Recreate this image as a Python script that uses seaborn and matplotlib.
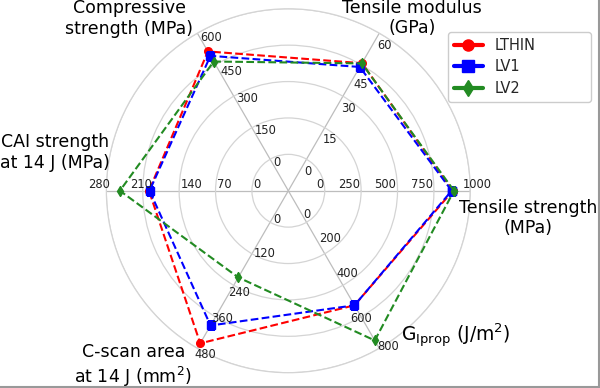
import numpy as np
import pandas as pd
import matplotlib.pyplot as plt
from matplotlib.lines import Line2D
import seaborn as sns

# radar axes, counter-clockwise starting at 3 o'clock
props = ['Tensile strength\n(MPa)', 'Tensile modulus\n(GPa)', 'Compressive\nstrength (MPa)',
         'CAI strength\nat 14 J (MPa)', 'C-scan area\nat 14 J (mm$^2$)',
         r'G$_{\mathrm{Iprop}}$ (J/m$^2$)']
axis_max = [1000, 60, 600, 280, 480, 800]
tick_step = [250, 15, 150, 70, 120, 200]

samples = ['LTHIN', 'LV1', 'LV2']
lthin = [880, 45.7, 513, 198, 461, 527]
lv1 = [872, 43.9, 492, 197, 393, 527]
lv2 = [888, 45.6, 465, 254, 210, 750]

colors = ['red', 'blue', 'forestgreen']
markers = ['o', 's', 'd']

sns.set_style('whitegrid')
plt.rcParams['font.family'] = ['DejaVu Sans']

angles = np.deg2rad(np.arange(0, 360, 60))
n_levels = 4  # ticks above zero; zero sits on the first ring

def to_r(vals):
    return [1 + n_levels * v / m for v, m in zip(vals, axis_max)]

rows = []
for name, vals in zip(samples, [lthin, lv1, lv2]):
    r = to_r(vals)
    th = list(angles) + [2 * np.pi]
    r = r + [r[0]]
    for t, rr in zip(th, r):
        rows.append({'sample': name, 'theta': t, 'r': rr})
df = pd.DataFrame(rows)

fig = plt.figure(figsize=(6, 3.88), dpi=100)
ax = fig.add_axes([0.1772, 0.0394, 0.6067, 0.938], polar=True)
ax.set_facecolor('white')

for name, c, m in zip(samples, colors, markers):
    sub = df[df['sample'] == name]
    sns.lineplot(data=sub, x='theta', y='r', ax=ax, sort=False, estimator=None,
                 color=c, linestyle='--', linewidth=1.5, marker=m, markersize=5.5,
                 markeredgecolor=c, markeredgewidth=1)

ax.set_ylim(0, 5)
ax.set_rgrids([1, 2, 3, 4, 5], labels=[''] * 5)
ax.set_thetagrids(np.rad2deg(angles), labels=[''] * 6)
ax.xaxis.grid(True, color='#bdbdbd', linewidth=0.9)
ax.yaxis.grid(True, color='#d4d4d4', linewidth=0.9)
ax.spines['polar'].set_color('#d4d4d4')
ax.spines['polar'].set_linewidth(0.9)
ax.set_xlabel('')
ax.set_ylabel('')

# per-axis tick labels, some pushed off the markers
tick_align = [('right', 'bottom', -1, 0), ('left', 'top', -1.5, -4),
              ('left', 'center', 2, -2), ('left', 'bottom', 1, 0),
              ('left', 'center', 1, 0), ('left', 'bottom', -3, 3)]
nudge = {(0, 4): (23, 0), (1, 3): (-6, 8), (2, 3): (2, 4), (2, 4): (0, 2),
         (3, 3): (-14, 0), (3, 4): (-20, 0),
         (4, 0): (2, -3), (4, 2): (-7, 7), (4, 3): (-6, 2), (4, 4): (-4, 6),
         (5, 0): (1, 3), (5, 1): (-1, -5), (5, 2): (-2, -1), (5, 3): (-7, 12), (5, 4): (2, 9)}
for i, (a, step, (ha, va, dx, dy)) in enumerate(zip(angles, tick_step, tick_align)):
    for k in range(n_levels + 1):
        nx, ny = nudge.get((i, k), (0, 0))
        ax.annotate(f'{k * step}', xy=(a, k + 1),
                    xytext=(dx + nx * 0.72, dy - ny * 0.72),
                    textcoords='offset points', ha=ha, va=va,
                    fontsize=8.3, color='#222222')

# axis titles (angle in degrees, radius in ring units)
label_pos = [(353.5, 6.63), (54.4, 5.84), (132.7, 6.45),
             (170.6, 6.50), (228.5, 6.43), (319.1, 6.10)]
label_size = [12.5, 12.5, 12.5, 12.5, 12.5, 13.5]
for txt, (deg, rad), fs in zip(props, label_pos, label_size):
    ax.text(np.deg2rad(deg), rad, txt, ha='center', va='center',
            multialignment='center', fontsize=fs, color='black')

handles = [Line2D([], [], color=c, marker=m, linewidth=3, markersize=8)
           for c, m in zip(colors, markers)]
fig.legend(handles, samples, loc='upper left',
           bbox_to_anchor=(0.7467, 0.9175, 0.2383, 0), mode='expand',
           borderaxespad=0, fontsize=10.5, labelspacing=0.45,
           frameon=True, edgecolor='#cccccc', framealpha=1)

fig.add_artist(Line2D([0.9985, 0.9985], [0, 1], transform=fig.transFigure,
                      color='#999999', linewidth=1.5))
fig.add_artist(Line2D([0, 1], [0.003, 0.003], transform=fig.transFigure,
                      color='#999999', linewidth=1.5))

fig.savefig('out.png', dpi=100)
